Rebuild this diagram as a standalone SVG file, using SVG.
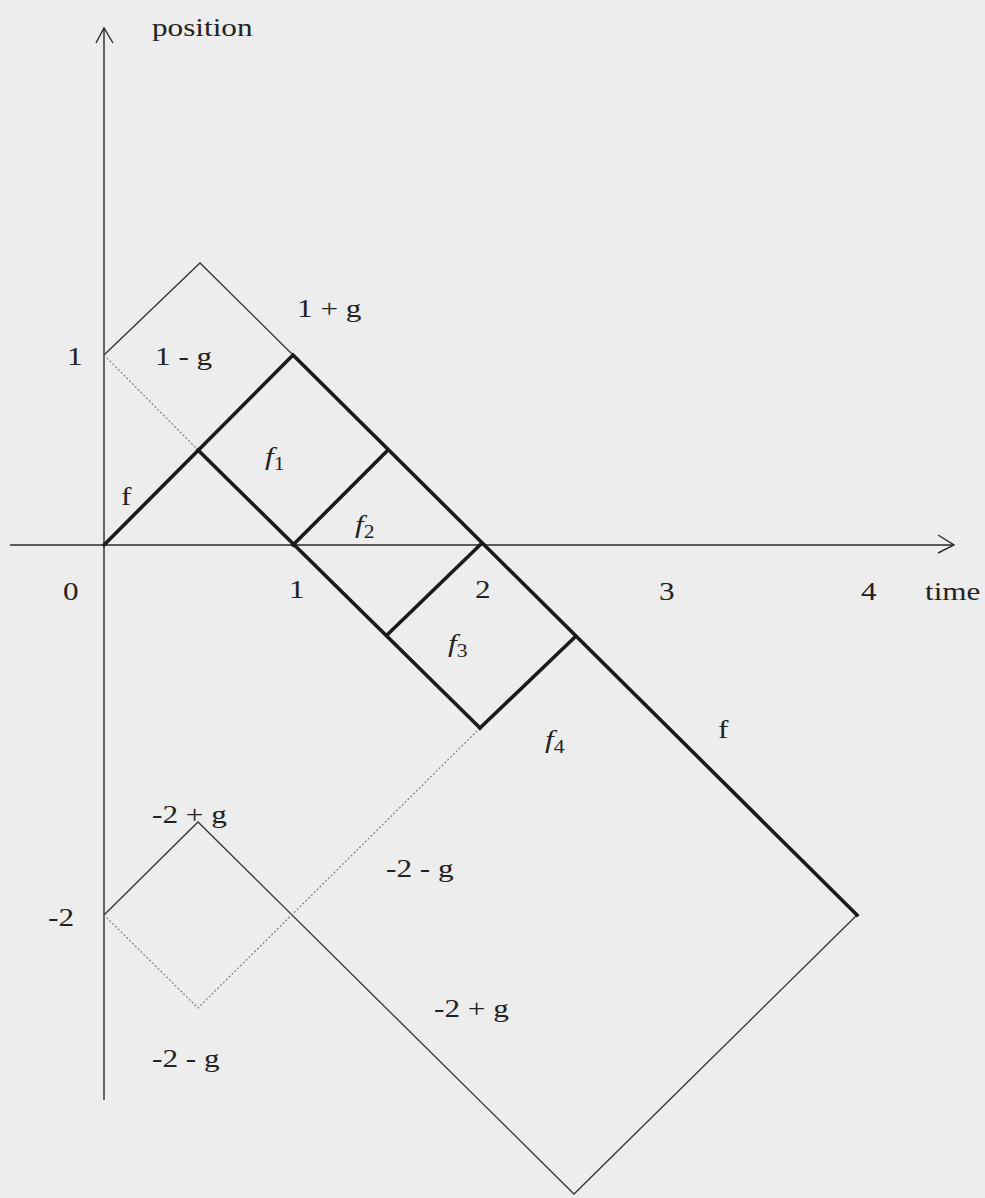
<svg xmlns="http://www.w3.org/2000/svg" width="985" height="1198" viewBox="0 0 985 1198">
<style>
.bg{fill:#ededed}
.axis{stroke:#2a2a2a;stroke-width:1.4;fill:none}
.thin{stroke:#333;stroke-width:1.3;fill:none;stroke-linejoin:miter}
.thick{stroke:#1a1a1a;stroke-width:3.6;fill:none;stroke-linejoin:miter;stroke-linecap:square}
.dot{stroke:#777;stroke-width:1.1;fill:none;stroke-dasharray:2 2}
text{font-family:"Liberation Serif","Times New Roman",serif;font-size:26px;fill:#222}
.it{font-style:italic}
.sub{font-size:18px;font-style:normal}
</style>
<rect class="bg" x="0" y="0" width="985" height="1198"/>
<g id="axes">
<line class="axis" x1="104" y1="1100" x2="104" y2="28"/>
<polyline class="axis" points="96,43 104,28 113,43"/>
<line class="axis" x1="10" y1="545" x2="953" y2="545"/>
<polyline class="axis" points="938,535 954,545 938,553"/>
</g>
<g id="connectors">
<polyline class="thin" points="104,355 200,263 293,355"/>
<polyline class="thin" points="104,915 198,822 574,1194 857,915"/>
<line class="dot" x1="104" y1="355" x2="198" y2="450"/>
<polyline class="dot" points="480,728 198,1008 104,915"/>
<polyline class="thick" points="104,545 293,355 857,915"/>
<polyline class="thick" points="198,450 480,728"/>
<line class="thick" x1="293" y1="545" x2="387" y2="451"/>
<line class="thick" x1="387" y1="635" x2="480" y2="545"/>
<line class="thick" x1="480" y1="728" x2="575" y2="637"/>
</g>
<g id="labels">
<text transform="translate(152,36) scale(1.2,1)">position</text>
<text transform="translate(297,317) scale(1.2,1)">1 + g</text>
<text transform="translate(155,365) scale(1.2,1)">1 - g</text>
<text transform="translate(67,365) scale(1.2,1)">1</text>
<text transform="translate(121,505) scale(1.2,1)">f</text>
<text transform="translate(265,465) scale(1.2,1)"><tspan class="it">f</tspan><tspan class="sub" dy="5">1</tspan></text>
<text transform="translate(355,533) scale(1.2,1)"><tspan class="it">f</tspan><tspan class="sub" dy="5">2</tspan></text>
<text transform="translate(448,652) scale(1.2,1)"><tspan class="it">f</tspan><tspan class="sub" dy="5">3</tspan></text>
<text transform="translate(545,748) scale(1.2,1)"><tspan class="it">f</tspan><tspan class="sub" dy="5">4</tspan></text>
<text transform="translate(718,738) scale(1.2,1)">f</text>
<text transform="translate(63,600) scale(1.2,1)">0</text>
<text transform="translate(289,598) scale(1.2,1)">1</text>
<text transform="translate(475,598) scale(1.2,1)">2</text>
<text transform="translate(659,600) scale(1.2,1)">3</text>
<text transform="translate(861,600) scale(1.2,1)">4</text>
<text transform="translate(925,600) scale(1.2,1)">time</text>
<text transform="translate(152,823) scale(1.2,1)">-2 + g</text>
<text transform="translate(48,926) scale(1.2,1)">-2</text>
<text transform="translate(386,877) scale(1.2,1)">-2 - g</text>
<text transform="translate(152,1067) scale(1.2,1)">-2 - g</text>
<text transform="translate(434,1017) scale(1.2,1)">-2 + g</text>
</g>
</svg>
